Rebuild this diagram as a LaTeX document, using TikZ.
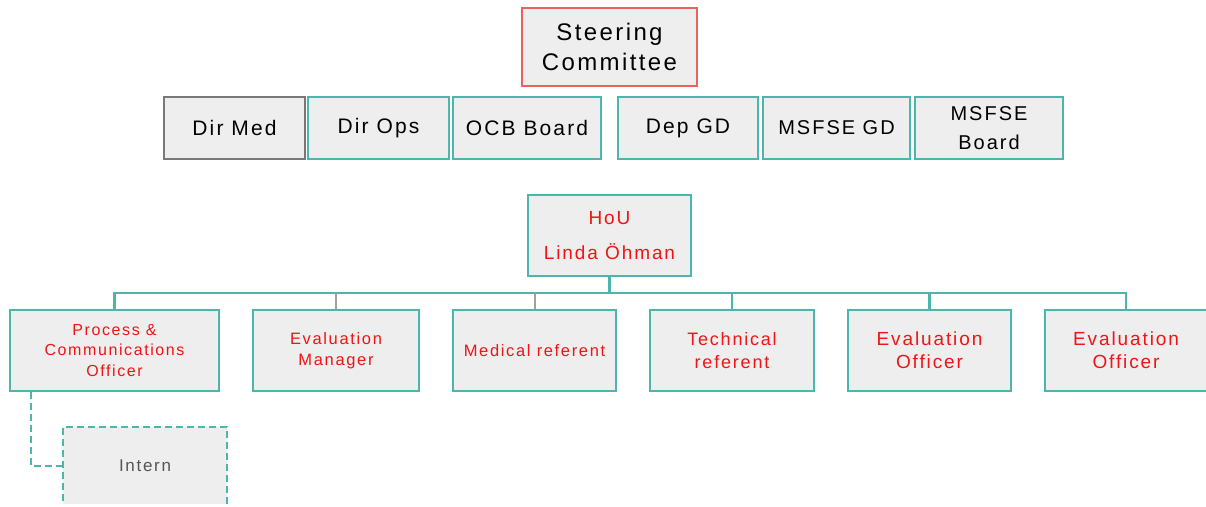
\documentclass[tikz,border=0pt]{standalone}
\usepackage{fontspec}
\setmainfont{Liberation Sans}
\newfontfamily\lsf[LetterSpace=10]{Liberation Sans}
\definecolor{tealc}{RGB}{77,182,172}
\definecolor{boxfill}{RGB}{238,238,238}
\definecolor{redtxt}{RGB}{240,20,20}
\definecolor{redborder}{RGB}{236,96,96}
\definecolor{greyborder}{RGB}{120,120,120}
\definecolor{greyline}{RGB}{160,160,160}
\definecolor{interntxt}{RGB}{85,85,85}
\tikzset{
  orgbox/.style={draw=tealc, line width=2pt, fill=boxfill, inner sep=0pt, align=center},
  topbox/.style={orgbox, text=black, font={\lsf\fontsize{21}{29}\selectfont}, minimum height=62pt},
  rowbox/.style={orgbox, text=redtxt, minimum height=81pt},
  busline/.style={draw=tealc, line width=2.2pt},
  greydrop/.style={draw=greyline, line width=2pt},
  dashline/.style={draw=tealc, line width=2pt, dash pattern=on 7pt off 4pt}
}
\begin{document}
\begin{tikzpicture}[x=1pt,y=-1pt]
\useasboundingbox (0,0) rectangle (1206,506);
\clip (0,0) rectangle (1206,503.5);
% top
\node[orgbox, draw=redborder, text=black, minimum width=175pt, minimum height=78pt, font={\lsf\fontsize{24}{29.5}\selectfont}] (sc) at (609.5,47) {Steering\\Committee};
\node[topbox, draw=greyborder, minimum width=141pt] (dm) at (234.5,128) {Dir Med};
\node[topbox, minimum width=141pt] (do) at (378.5,128) {Dir Ops};
\node[topbox, minimum width=148pt] (ocb) at (527,128) {OCB Board};
\node[topbox, minimum width=140pt] (dgd) at (688,128) {Dep GD};
\node[topbox, minimum width=147pt, font={\lsf\fontsize{20}{29}\selectfont}] (mgd) at (836.5,128) {MSFSE GD};
\node[topbox, minimum width=148pt, font={\lsf\fontsize{20}{29}\selectfont}] (mb) at (989,128) {MSFSE\\Board};
% HoU
\node[orgbox, text=redtxt, minimum width=163pt, minimum height=81pt, font={\lsf\fontsize{19}{35}\selectfont}] (hou) at (609.5,235.5) {HoU\\Linda Öhman};
% row
\node[rowbox, minimum width=209pt, font={\lsf\fontsize{16}{20.5}\selectfont}] (proc) at (114.5,350.5) {Process \&\\Communications\\Officer};
\node[rowbox, minimum width=166pt, font={\lsf\fontsize{16.5}{21}\selectfont}] (em) at (336,350.5) {Evaluation\\Manager};
\node[rowbox, minimum width=163pt, font={\lsf\fontsize{16.5}{21}\selectfont}] (med) at (534.5,350.5) {Medical referent};
\node[rowbox, minimum width=164pt, font={\lsf\fontsize{18}{23}\selectfont}] (tech) at (732,350.5) {Technical\\referent};
\node[rowbox, minimum width=163pt, font={\lsf\fontsize{19}{23}\selectfont}] (eo1) at (929.5,350.5) {Evaluation\\Officer};
\node[rowbox, minimum width=162pt, font={\lsf\fontsize{19}{23}\selectfont}] (eo2) at (1126,350.5) {Evaluation\\Officer};
% intern
\node[fill=boxfill, dashline, inner sep=0pt, minimum width=164pt, minimum height=78pt, text=interntxt, font={\lsf\fontsize{17}{20}\selectfont}] (intern) at (145,466) {Intern};
% connectors
\coordinate (bus) at (609.5,293);
\draw[busline] (hou.south) -- (bus);
\draw[busline] (bus) -| (proc.north);
\draw[busline] (bus) -| (eo2.north);
\draw[busline] (bus) -| (tech.north);
\draw[busline] (bus) -| (eo1.north);
\draw[greydrop] (em.north) -- (em.north |- bus);
\draw[greydrop] (med.north) -- (med.north |- bus);
\draw[dashline] ([xshift=22pt]proc.south west) |- (intern.west);
\end{tikzpicture}
\end{document}
